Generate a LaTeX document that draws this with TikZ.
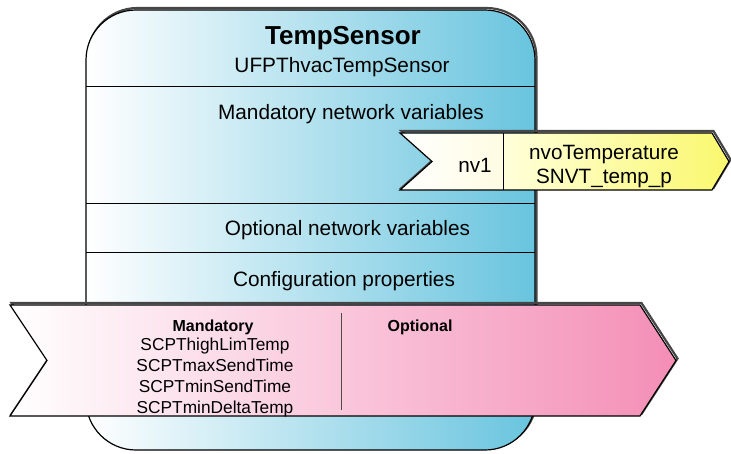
\documentclass[tikz,border=0pt]{standalone}
\usepackage{fontspec}
\setmainfont{Liberation Sans}
\definecolor{boxR}{RGB}{104,196,222}
\definecolor{pinkR}{RGB}{244,142,182}
\definecolor{yelL}{RGB}{255,255,218}
\definecolor{yelR}{RGB}{250,248,110}
\definecolor{creamR}{RGB}{255,252,226}
\definecolor{shadowc}{RGB}{70,70,70}
\tikzset{
  lbl/.style={inner sep=0pt, anchor=base},
  secfont/.style={font=\fontsize{20.8}{24}\selectfont},
  nvfont/.style={font=\fontsize{20.7}{24}\selectfont},
  cpfont/.style={font=\fontsize{17.3}{20}\selectfont},
  outl/.style={draw=black, line width=1.2pt, line join=miter},
  shad/.style={draw=shadowc, line width=2.2pt, line join=miter},
}
\begin{document}
\begin{tikzpicture}[x=1pt,y=-1pt]
\useasboundingbox (0,0) rectangle (731,453);
% main box
\draw[shad, rounded corners=50pt, shift={(1.5,-2)}] (86,10) rectangle (535,450);
\path[rounded corners=50pt, left color=white, right color=boxR] (86,10) rectangle (535,450);
\draw[outl, rounded corners=50pt] (86,10) rectangle (535,450);
\coordinate (l1a) at (86,86); \coordinate (l1b) at (535,86);
\coordinate (l2a) at (86,203); \coordinate (l2b) at (535,203);
\coordinate (l3a) at (86,252); \coordinate (l3b) at (535,252);
\draw[line width=0.9pt] (l1a) -- (l1b);
\draw[line width=0.9pt] (l2a) -- (l2b);
\draw[line width=0.9pt] (l3a) -- (l3b);
\node[lbl, font=\fontsize{26}{30}\selectfont\bfseries] (title) at (343,44) {TempSensor};
\node[lbl, secfont] (sub) at (342,72) {UFPThvacTempSensor};
\node[lbl, secfont] (mnv) at (351,119) {Mandatory network variables};
\node[lbl, secfont] (onv) at (347.5,235) {Optional network variables};
\node[lbl, secfont] (cfg) at (344,286) {Configuration properties};
% nv arrow
\draw[shad, shift={(1.5,-2)}] (400,133) -- (712,133) -- (729,161.5) -- (712,190) -- (400,190) -- (432,161.5) -- cycle;
\path[left color=white, right color=creamR] (400,133) -- (503,133) -- (503,190) -- (400,190) -- (432,161.5) -- cycle;
\path[left color=yelL, right color=yelR] (503,133) -- (712,133) -- (729,161.5) -- (712,190) -- (503,190) -- cycle;
\draw[outl] (400,133) -- (712,133) -- (729,161.5) -- (712,190) -- (400,190) -- (432,161.5) -- cycle;
\coordinate (nvda) at (503,133); \coordinate (nvdb) at (503,190);
\draw[line width=0.9pt] (nvda) -- (nvdb);
\node[lbl, nvfont] (nv1) at (475,172) {nv1};
\node[lbl, nvfont] (nvo) at (604,159) {nvoTemperature};
\node[lbl, nvfont] (snvt) at (604,183) {SNVT\_temp\_p};
% pink arrow
\draw[shad, shift={(1.5,-2)}] (10,305) -- (640,305) -- (676,360.5) -- (640,416) -- (10,416) -- (47,360.5) -- cycle;
\path[left color=white, right color=pinkR] (10,305) -- (640,305) -- (676,360.5) -- (640,416) -- (10,416) -- (47,360.5) -- cycle;
\draw[outl] (10,305) -- (640,305) -- (676,360.5) -- (640,416) -- (10,416) -- (47,360.5) -- cycle;
\coordinate (pda) at (341,313); \coordinate (pdb) at (341,410);
\draw[line width=0.9pt, draw=black!70] (pda) -- (pdb);
\node[lbl, font=\fontsize{16}{19}\selectfont\bfseries] (mand) at (213,331) {Mandatory};
\node[lbl, font=\fontsize{16}{19}\selectfont\bfseries] (opt) at (420,331) {Optional};
\node[lbl, cpfont] (c1) at (215,350) {SCPThighLimTemp};
\node[lbl, cpfont] (c2) at (215,371) {SCPTmaxSendTime};
\node[lbl, cpfont] (c3) at (215,392) {SCPTminSendTime};
\node[lbl, cpfont] (c4) at (215,413) {SCPTminDeltaTemp};
\end{tikzpicture}
\end{document}
